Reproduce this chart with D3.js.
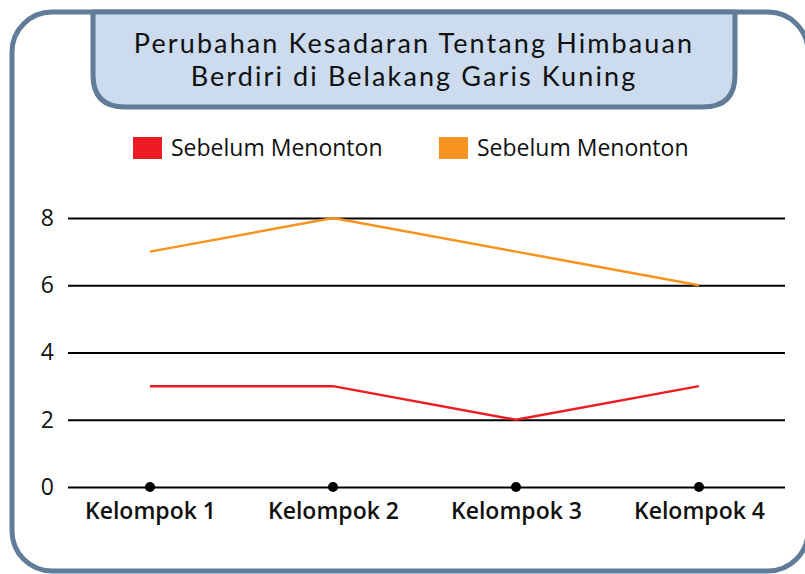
<!DOCTYPE html>
<html>
<head>
<meta charset="utf-8">
<script src="https://cdn.jsdelivr.net/npm/d3@7"></script>
<style>
  html, body { margin: 0; padding: 0; background: #fff; }
  svg { display: block; }
  text { font-family: "Open Sans", "Lato", sans-serif; fill: #111; }
</style>
</head>
<body>
<svg id="chart" width="805" height="574"></svg>
<script>
// Data
const categories = ["Kelompok 1", "Kelompok 2", "Kelompok 3", "Kelompok 4"];
const seriesNames = ["Sebelum Menonton", "Sebelum Menonton"];
const redValues = [3, 3, 2, 3];
const orangeValues = [7, 8, 7, 6];
const yTicks = [0, 2, 4, 6, 8];
const titleLines = ["Perubahan Kesadaran Tentang Himbauan", "Berdiri di Belakang Garis Kuning"];

const colors = ["#ed1c24", "#f7931e"];
const frame = "#617c98";

const svg = d3.select("#chart");

// Outer rounded frame
svg.append("rect")
  .attr("x", 12).attr("y", 12)
  .attr("width", 796).attr("height", 559)
  .attr("rx", 40).attr("ry", 40)
  .attr("fill", "#fff")
  .attr("stroke", frame).attr("stroke-width", 5);

// Title tab: flat top joined to the frame, rounded bottom corners
const tx0 = 93, tx1 = 735, ty0 = 12, ty1 = 107, r = 32;
svg.append("path")
  .attr("d", `M${tx0},${ty0} L${tx0},${ty1 - r} Q${tx0},${ty1} ${tx0 + r},${ty1}
              L${tx1 - r},${ty1} Q${tx1},${ty1} ${tx1},${ty1 - r} L${tx1},${ty0} Z`)
  .attr("fill", "#ccdcee")
  .attr("stroke", frame).attr("stroke-width", 5)
  .attr("stroke-linejoin", "round");

svg.append("g").selectAll("text").data(titleLines).join("text")
  .attr("x", 414).attr("y", (d, i) => 53 + i * 33)
  .attr("text-anchor", "middle")
  .attr("font-size", 27)
  .attr("letter-spacing", 2.1)
  .style("font-family", '"Lato", "Open Sans", sans-serif')
  .text(d => d);

// Scales
const x = d3.scalePoint().domain(categories).range([150, 699]);
const y = d3.scaleLinear().domain([0, 8]).range([487, 218]);

// Horizontal grid lines with value labels
const yAxis = d3.axisLeft(y).tickValues(yTicks).tickSize(-717).tickPadding(14);
const gy = svg.append("g").attr("transform", "translate(68,0)").call(yAxis);
gy.select(".domain").remove();
gy.selectAll(".tick line").attr("stroke", "#000").attr("stroke-width", 2);
gy.selectAll(".tick text")
  .attr("font-size", 23).attr("font-weight", 400)
  .attr("fill", "#111")
  .style("font-family", '"Open Sans", sans-serif');

// Category labels
const xAxis = d3.axisBottom(x).tickSize(0).tickPadding(16);
const gx = svg.append("g").attr("transform", "translate(0,487)").call(xAxis);
gx.select(".domain").remove();
gx.selectAll(".tick text")
  .attr("font-size", 23).attr("font-weight", 600)
  .attr("fill", "#111")
  .style("font-family", '"Open Sans", sans-serif');

// Category markers on the baseline
svg.append("g").selectAll("circle").data(categories).join("circle")
  .attr("cx", d => x(d)).attr("cy", y(0)).attr("r", 5)
  .attr("fill", "#000");

// Lines
const line = d3.line().x((d, i) => x(categories[i])).y(d => y(d));
[redValues, orangeValues].forEach((vals, k) => {
  svg.append("path")
    .datum(vals)
    .attr("d", line)
    .attr("fill", "none")
    .attr("stroke", colors[k])
    .attr("stroke-width", 2.5);
});

// Legend
const legendX = [133, 439];
const lg = svg.append("g").selectAll("g").data(seriesNames).join("g")
  .attr("transform", (d, i) => `translate(${legendX[i]},137)`);
lg.append("rect").attr("width", 29).attr("height", 22).attr("fill", (d, i) => colors[i]);
lg.append("text").attr("x", 38).attr("y", 19)
  .attr("font-size", 23).attr("font-weight", 500)
  .text(d => d);
</script>
</body>
</html>
